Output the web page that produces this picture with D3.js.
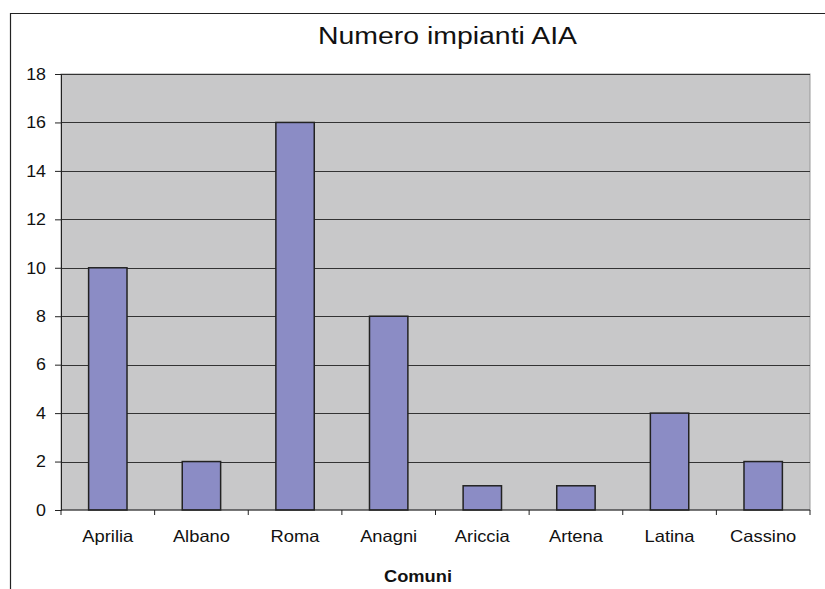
<!DOCTYPE html>
<html><head><meta charset="utf-8">
<script src="https://cdn.jsdelivr.net/npm/d3@7"></script>
<style>body{margin:0;background:#fff}svg{display:block;font-family:"Liberation Sans",Arial,sans-serif}</style>
</head><body>
<svg id="c" width="825" height="589"></svg>
<script>
const categories = ["Aprilia","Albano","Roma","Anagni","Ariccia","Artena","Latina","Cassino"];
const values = [10,2,16,8,1,1,4,2];
const yTicks = [0,2,4,6,8,10,12,14,16,18];
const title = "Numero impianti AIA";
const xTitle = "Comuni";

const svg = d3.select("#c");
const m = {l:61, r:810, t:74, b:510};
function stretch(sel, k){ sel.each(function(){ const w=this.getComputedTextLength(); d3.select(this).attr("textLength",w*k).attr("lengthAdjust","spacingAndGlyphs"); }); }

svg.append("path").attr("d","M10.5,589 V13.5 H825").attr("fill","none").attr("stroke","#222").attr("stroke-width",1.2);

const x = d3.scaleBand().domain(categories).range([m.l,m.r]).paddingInner(0.59).paddingOuter(0.295);
const xb = d3.scaleBand().domain(categories).range([m.l,m.r]);
const y = d3.scaleLinear().domain([0,18]).range([m.b,m.t]);

svg.append("rect").attr("x",m.l).attr("y",m.t).attr("width",m.r-m.l).attr("height",m.b-m.t)
  .attr("fill","#c8c8c9").attr("stroke","#999").attr("stroke-width",1);

svg.append("g").selectAll("line").data(yTicks.filter(d=>d>0)).join("line")
  .attr("x1",m.l).attr("x2",m.r).attr("y1",d=>Math.round(y(d))+0.5).attr("y2",d=>Math.round(y(d))+0.5)
  .attr("stroke","#333").attr("stroke-width",1);

svg.append("g").selectAll("rect").data(values).join("rect")
  .attr("x",(d,i)=>x(categories[i])).attr("width",x.bandwidth())
  .attr("y",d=>y(d)).attr("height",d=>y(0)-y(d))
  .attr("fill","#8b8cc5").attr("stroke","#222").attr("stroke-width",1.5);

const ya = svg.append("g").attr("transform",`translate(${m.l},0)`)
  .call(d3.axisLeft(y).tickValues(yTicks).tickSize(6).tickPadding(9));
ya.select(".domain").attr("stroke","#222");
ya.selectAll(".tick line").attr("stroke","#222");
ya.selectAll("text").attr("font-size",16.5).attr("fill","#111").attr("font-family","Liberation Sans, Arial, sans-serif");
stretch(ya.selectAll("text"),1.08);

const xa = svg.append("g").attr("transform",`translate(0,${m.b})`);
xa.append("line").attr("x1",m.l).attr("x2",m.r).attr("stroke","#222");
xa.selectAll("line.t").data(categories.concat(["_end"])).join("line").attr("class","t")
  .attr("x1",(d,i)=>m.l+i*xb.step()).attr("x2",(d,i)=>m.l+i*xb.step()).attr("y1",0).attr("y2",5).attr("stroke","#222");
const xl = xa.selectAll("text").data(categories).join("text")
  .attr("x",d=>xb(d)+xb.bandwidth()/2).attr("y",32).attr("text-anchor","middle")
  .attr("font-size",16.5).attr("fill","#111").text(d=>d);
stretch(xl,1.11);

const tt = svg.append("text").attr("x",447.5).attr("y",44).attr("text-anchor","middle").attr("font-size",23.5).attr("fill","#111").text(title);
tt.attr("textLength",259).attr("lengthAdjust","spacingAndGlyphs");
const ct = svg.append("text").attr("x",418).attr("y",582).attr("text-anchor","middle").attr("font-size",17).attr("font-weight","bold").attr("fill","#111").text(xTitle);
ct.attr("textLength",68).attr("lengthAdjust","spacingAndGlyphs");
</script>
</body></html>
